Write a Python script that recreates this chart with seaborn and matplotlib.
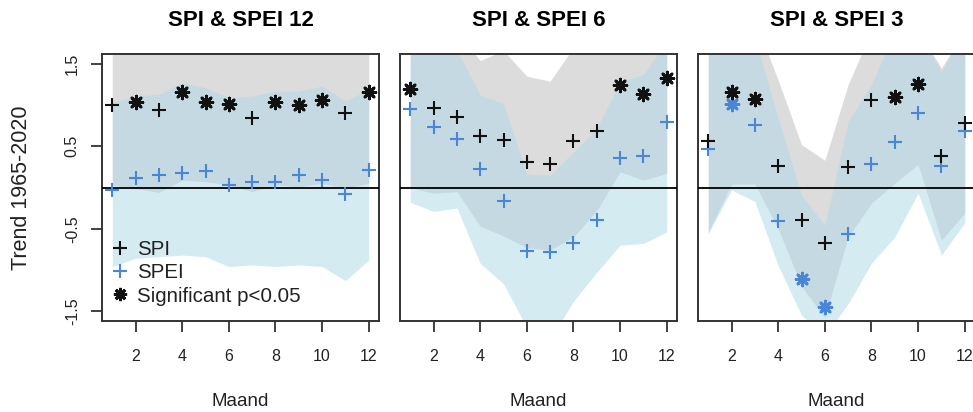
import numpy as np
import pandas as pd
import matplotlib
matplotlib.use("Agg")
import matplotlib.pyplot as plt
from matplotlib.lines import Line2D
import seaborn as sns

# ---------------- data ----------------
months = [1, 2, 3, 4, 5, 6, 7, 8, 9, 10, 11, 12]
month_ticks = [2, 4, 6, 8, 10, 12]
y_ticks = [-1.5, -0.5, 0.5, 1.5]
titles = ["SPI & SPEI 12", "SPI & SPEI 6", "SPI & SPEI 3"]

# SPI & SPEI 12
spi12 = [1.00, 1.04, 0.94, 1.16, 1.04, 1.01, 0.84, 1.04, 1.00, 1.06, 0.90, 1.16]
spi12_sig = [0, 1, 0, 1, 1, 1, 0, 1, 1, 1, 0, 1]
spei12 = [-0.03, 0.11, 0.15, 0.18, 0.20, 0.03, 0.07, 0.07, 0.15, 0.09, -0.08, 0.21]
spei12_sig = [0, 0, 0, 0, 0, 0, 0, 0, 0, 0, 0, 0]
spi12_hi = [1.9, 1.9, 1.9, 1.9, 1.9, 1.9, 1.9, 1.9, 1.9, 1.9, 1.9, 1.9]
spi12_lo = [0.03, -0.01, -0.06, 0.09, 0.07, 0.03, -0.05, 0.03, 0.01, 0.05, -0.01, 0.05]
spei12_hi = [1.03, 1.11, 1.13, 1.27, 1.21, 1.09, 1.11, 1.17, 1.17, 1.23, 1.05, 1.19]
spei12_lo = [-0.96, -0.86, -0.84, -0.82, -0.84, -0.96, -0.94, -0.96, -0.94, -0.96, -1.13, -0.88]

# SPI & SPEI 6
spi6 = [1.19, 0.96, 0.85, 0.63, 0.58, 0.31, 0.28, 0.56, 0.69, 1.24, 1.14, 1.33]
spi6_sig = [1, 0, 0, 0, 0, 0, 0, 0, 0, 1, 1, 1]
spei6 = [0.95, 0.74, 0.59, 0.22, -0.16, -0.77, -0.78, -0.67, -0.39, 0.36, 0.38, 0.80]
spei6_sig = [0, 0, 0, 0, 0, 0, 0, 0, 0, 0, 0, 0]
spi6_hi = [1.9, 1.9, 1.9, 1.54, 1.66, 1.35, 1.29, 1.70, 1.9, 1.9, 1.9, 1.9]
spi6_lo = [0.00, -0.07, -0.05, -0.47, -0.59, -0.73, -0.76, -0.60, -0.28, 0.19, 0.09, 0.17]
spei6_hi = [1.9, 1.9, 1.67, 1.12, 1.02, 0.16, 0.15, 0.43, 0.72, 1.28, 1.37, 1.77]
spei6_lo = [-0.18, -0.29, -0.25, -0.92, -1.17, -1.70, -1.85, -1.38, -1.03, -0.70, -0.68, -0.54]

# SPI & SPEI 3
spi3 = [0.56, 1.16, 1.08, 0.26, -0.40, -0.67, 0.25, 1.06, 1.10, 1.26, 0.38, 0.78]
spi3_sig = [0, 1, 1, 0, 0, 0, 0, 0, 1, 1, 0, 0]
spei3 = [0.47, 1.01, 0.76, -0.41, -1.11, -1.45, -0.56, 0.28, 0.55, 0.91, 0.26, 0.68]
spei3_sig = [0, 1, 0, 0, 1, 1, 0, 0, 0, 0, 0, 0]
spi3_hi = [1.9, 1.9, 2.04, 1.30, 0.52, 0.33, 1.25, 1.9, 1.9, 1.9, 1.45, 1.9]
spi3_lo = [-0.54, 0.04, 0.04, -0.50, -1.20, -1.58, -0.60, -0.19, 0.05, 0.28, -0.64, -0.31]
spei3_hi = [1.9, 1.9, 1.82, 0.84, -0.09, -0.46, 0.80, 1.25, 1.9, 1.9, 1.40, 1.9]
spei3_lo = [-0.56, -0.03, -0.17, -0.95, -1.55, -1.80, -1.41, -0.92, -0.60, -0.07, -0.82, -0.43]

panels = [
    (spi12, spi12_sig, spei12, spei12_sig, spi12_hi, spi12_lo, spei12_hi, spei12_lo),
    (spi6, spi6_sig, spei6, spei6_sig, spi6_hi, spi6_lo, spei6_hi, spei6_lo),
    (spi3, spi3_sig, spei3, spei3_sig, spi3_hi, spi3_lo, spei3_hi, spei3_lo),
]

# ---------------- style ----------------
sns.set_style("ticks")
plt.rcParams["font.family"] = ["Liberation Sans", "DejaVu Sans"]

GRAY = "#dcdcdc"
LBLUE = "#add8e6"
BLUE = "#4a86d8"
TXT = "#222222"
AST = (8, 2, 0)

W, H = 973, 412
fig = plt.figure(figsize=(W / 100, H / 100), dpi=100)
lefts = [102, 400, 698]
top_px, bot_px, width_px = 54, 321, 277

for i, (spi, spi_sig, spei, spei_sig, g_hi, g_lo, b_hi, b_lo) in enumerate(panels):
    ax = fig.add_axes([lefts[i] / W, 1 - bot_px / H, width_px / W, (bot_px - top_px) / H])
    ax.fill_between(months, g_lo, g_hi, color=GRAY, lw=0, zorder=1)
    ax.fill_between(months, b_lo, b_hi, color=LBLUE, alpha=0.5, lw=0, zorder=2)
    ax.axhline(0, color="black", lw=1.3, zorder=3)

    df = pd.DataFrame({"month": months, "spi": spi, "spi_sig": spi_sig,
                       "spei": spei, "spei_sig": spei_sig})
    sns.scatterplot(data=df, x="month", y="spei", marker="+", color=BLUE,
                    s=100, linewidth=1.5, ax=ax, zorder=4)
    sns.scatterplot(data=df[df.spei_sig == 1], x="month", y="spei", marker=AST,
                    color=BLUE, s=85, linewidth=2.0, ax=ax, zorder=5)
    sns.scatterplot(data=df, x="month", y="spi", marker="+", color="#111111",
                    s=100, linewidth=1.5, ax=ax, zorder=6)
    sns.scatterplot(data=df[df.spi_sig == 1], x="month", y="spi", marker=AST,
                    color="#111111", s=85, linewidth=2.0, ax=ax, zorder=7)

    ax.set_xlim(0.56, 12.44)
    ax.set_ylim(-1.62, 1.62)
    ax.set_xticks(month_ticks)
    ax.set_xticklabels([str(m) for m in month_ticks])
    ax.tick_params(axis="x", length=8, width=1.3, pad=12.5, labelsize=11.5,
                   colors="#333333", labelcolor=TXT)
    for sp in ax.spines.values():
        sp.set_color("#333333")
        sp.set_linewidth(1.4)

    ax.set_xlabel("Maand", fontsize=13.5, color=TXT)
    ax.xaxis.set_label_coords(0.5, (bot_px - 402) / (bot_px - top_px))
    ax.xaxis.label.set_va("center")

    ax.set_title(titles[i], fontsize=16, fontweight="bold", color="black",
                 y=1 + (top_px - 21) / (bot_px - top_px), va="center", pad=0)

    if i == 0:
        ax.set_yticks(y_ticks)
        ax.set_yticklabels([str(v) for v in y_ticks])
        ax.tick_params(axis="y", length=8, width=1.3, pad=8, labelsize=11.5,
                       colors="#333333", labelcolor=TXT, labelrotation=90)
        for lab in ax.get_yticklabels():
            lab.set_va("center")
        ax.set_ylabel("Trend 1965-2020", fontsize=15.5, color=TXT)
        ax.yaxis.set_label_coords((22 - lefts[0]) / width_px, 0.5)
        ax.yaxis.label.set_va("center")

        handles = [
            Line2D([], [], ls="none", marker="+", color="#111111", markersize=10.5, mew=1.5),
            Line2D([], [], ls="none", marker="+", color=BLUE, markersize=10.5, mew=1.5),
            Line2D([], [], ls="none", marker=AST, color="#111111", markersize=9.5, mew=2.0),
        ]
        ax.legend(handles, ["SPI", "SPEI", "Significant p<0.05"], loc="center left",
                  bbox_to_anchor=((110 - lefts[0]) / width_px, (bot_px - 273) / (bot_px - top_px)),
                  frameon=False, fontsize=14.8, handlelength=1.0, handletextpad=0.3,
                  labelspacing=0.2, borderpad=0, borderaxespad=0, labelcolor=TXT)
    else:
        ax.set_yticks([])
        ax.set_ylabel("")

fig.savefig("out.png", dpi=100)
